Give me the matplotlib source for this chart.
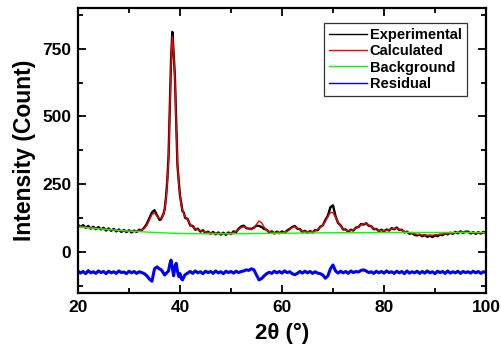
import matplotlib
matplotlib.use("Agg")
import matplotlib.pyplot as plt
from matplotlib.ticker import MultipleLocator
import numpy as np

# ==========================
# DATOS
# ==========================

# rejilla 2theta: 20-36 (0.5), 36.25-41 (0.25), 41.5-100 (0.5)
two_theta = np.concatenate([
    np.arange(20.0, 36.01, 0.5),
    np.arange(36.25, 41.01, 0.25),
    np.arange(41.5, 100.01, 0.5),
])

experimental = [
    100, 92, 99, 89, 96, 86, 93, 84, 92, 83,
    89, 79, 87, 78, 85, 76, 83, 74, 81, 73,
    80, 72, 79, 74, 82, 80, 90, 104, 125, 146,
    154, 135, 118,
    120, 130, 140, 158, 200, 262, 350, 530, 712, 812,
    735, 648, 478, 322, 262, 208, 178, 150, 145, 126,
    122, 98, 96, 82, 86, 75, 80, 70, 75, 67,
    74, 65, 72, 64, 71, 63, 72, 66, 76, 73,
    86, 94, 97, 88, 86, 85, 90, 97, 96, 92,
    85, 82, 72, 76, 68, 75, 69, 76, 70, 79,
    85, 92, 96, 86, 84, 74, 78, 71, 77, 72,
    81, 80, 93, 98, 118, 134, 165, 172, 132, 107,
    98, 83, 83, 75, 82, 79, 90, 92, 103, 101,
    106, 97, 95, 84, 85, 77, 82, 76, 83, 79,
    88, 84, 90, 81, 82, 72, 75, 67, 70, 63,
    61, 64, 58, 62, 56, 60, 55, 61, 58, 64,
    62, 69, 65, 71, 67, 74, 69, 76, 70, 75,
    75, 68, 73, 67, 73, 68, 74, 70,
]

calculated = [
    95, 94, 93, 92, 91, 90, 89, 88, 87, 86,
    85, 84, 83, 82, 81, 80, 79, 78, 78, 77,
    77, 77, 77, 78, 79, 82, 86, 98, 118, 138,
    144, 132, 124,
    124, 128, 136, 155, 195, 255, 340, 520, 700, 795,
    740, 640, 470, 330, 255, 215, 172, 155, 140, 130,
    118, 102, 92, 86, 82, 79, 76, 74, 72, 71,
    70, 69, 69, 68, 68, 68, 69, 70, 72, 76,
    83, 90, 93, 90, 84, 82, 88, 102, 114, 108,
    92, 80, 75, 73, 72, 72, 72, 72, 73, 76,
    82, 90, 93, 89, 82, 77, 75, 74, 74, 75,
    78, 83, 90, 100, 112, 130, 146, 145, 128, 110,
    95, 86, 80, 78, 79, 82, 87, 94, 100, 104,
    104, 100, 93, 87, 82, 80, 79, 79, 80, 82,
    85, 87, 87, 84, 80, 76, 73, 71, 69, 67,
    65, 64, 63, 62, 62, 62, 62, 63, 64, 65,
    66, 67, 68, 69, 70, 71, 72, 73, 73, 73,
    72, 71, 70, 70, 70, 70, 71, 72,
]

residual = [
    -70, -78, -72, -80, -69, -77, -73, -79, -70, -76,
    -72, -80, -71, -77, -73, -79, -70, -76, -74, -80,
    -71, -77, -72, -79, -73, -76, -80, -88, -100, -108,
    -62, -55, -63,
    -65, -70, -78, -85, -80, -75, -70, -45, -30, -60,
    -88, -55, -42, -70, -90, -80, -98, -103, -92, -84,
    -78, -72, -79, -70, -77, -73, -80, -71, -76, -72,
    -79, -70, -77, -73, -80, -71, -76, -72, -78, -71,
    -76, -72, -70, -66, -68, -62, -66, -85, -103, -98,
    -88, -80, -75, -79, -71, -77, -72, -78, -70, -76,
    -73, -80, -84, -79, -72, -78, -71, -77, -72, -79,
    -73, -78, -80, -85, -97, -88, -62, -48, -70, -78,
    -71, -77, -72, -79, -70, -76, -72, -74, -68, -66,
    -70, -76, -73, -79, -71, -77, -72, -78, -70, -76,
    -73, -79, -71, -77, -72, -80, -70, -78, -73, -77,
    -71, -79, -72, -78, -70, -77, -73, -80, -71, -76,
    -72, -79, -70, -78, -73, -77, -71, -79, -72, -76,
    -73, -78, -71, -77, -72, -79, -73, -76,
]

background_x = [20, 25, 30, 35, 40, 45, 50, 55, 60, 65, 70, 75, 80, 85, 90, 95, 100]
background = [92, 84, 77, 72, 68, 67, 67, 68, 69, 70, 71, 71, 72, 72, 72, 72, 72]

# ==========================
# FIGURA
# ==========================

plt.rcParams['font.family'] = ['Liberation Sans', 'DejaVu Sans']
plt.rcParams['font.weight'] = 'bold'

fig = plt.figure(figsize=(5.01, 3.56), dpi=100)
ax = fig.add_axes([0.1557, 0.178, 0.8143, 0.7995])

ax.plot(two_theta, experimental, color="black", lw=1.7, label="Experimental")
ax.plot(two_theta, calculated, color="#ff0000", lw=1.0, label="Calculated")
ax.plot(background_x, background, color="#00ff00", lw=1.0, label="Background")
ax.plot(two_theta, residual, color="#0000ff", lw=2.2, label="Residual")

ax.set_xlim(20, 100)
ax.set_ylim(-150, 900)

ax.xaxis.set_major_locator(MultipleLocator(20))
ax.xaxis.set_minor_locator(MultipleLocator(10))
ax.yaxis.set_major_locator(MultipleLocator(250))
ax.yaxis.set_minor_locator(MultipleLocator(125))

ax.tick_params(which="both", direction="in", top=True, right=True,
               labeltop=False, labelright=False, width=1.3)
ax.tick_params(which="major", length=6, labelsize=12.5, pad=5)
ax.tick_params(which="minor", length=3.5)

for s in ax.spines.values():
    s.set_linewidth(1.6)

for lab in ax.get_xticklabels() + ax.get_yticklabels():
    lab.set_fontweight("bold")

ax.set_xlabel("2θ (°)", fontsize=16, fontweight="bold", labelpad=6)
ax.set_ylabel("Intensity (Count)", fontsize=16.5, fontweight="bold", labelpad=4)

leg = ax.legend(loc="upper right", bbox_to_anchor=(0.953, 0.947),
                fontsize=10.5, frameon=True, fancybox=False,
                handlelength=2.6, handletextpad=0.2, borderpad=0.35,
                labelspacing=0.15, borderaxespad=0)
leg.get_frame().set_edgecolor("black")
leg.get_frame().set_linewidth(0.9)
for t in leg.get_texts():
    t.set_fontweight("bold")
for h in leg.get_lines():
    h.set_linewidth(1.0)

fig.savefig("out.png", dpi=100)
